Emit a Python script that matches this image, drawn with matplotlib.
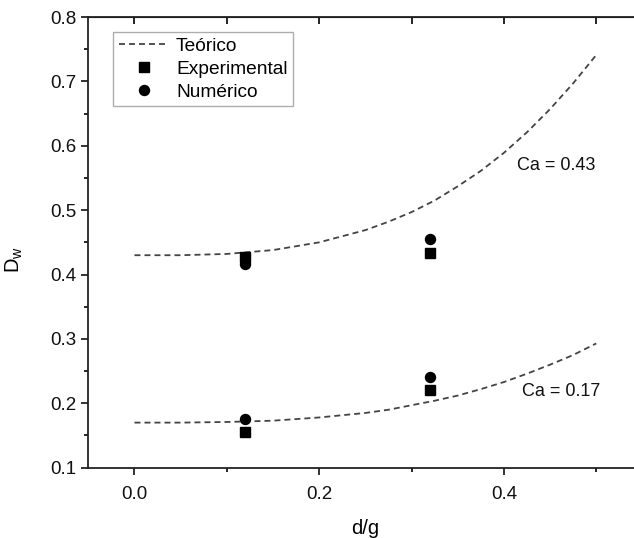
import matplotlib
matplotlib.use('Agg')
import matplotlib.pyplot as plt

plt.rcParams['font.family'] = ['Liberation Sans', 'DejaVu Sans']
plt.rcParams['lines.scale_dashes'] = False

# Curvas teóricas (Ca = 0.43 e Ca = 0.17)
x_teo = [0.0, 0.05, 0.10, 0.15, 0.20, 0.25, 0.275, 0.30, 0.325, 0.35, 0.375,
         0.40, 0.425, 0.45, 0.475, 0.50]
dw_teo_043 = [0.430, 0.430, 0.432, 0.438, 0.450, 0.469, 0.482, 0.497, 0.515, 0.537, 0.561,
              0.589, 0.621, 0.657, 0.697, 0.741]
dw_teo_017 = [0.170, 0.170, 0.171, 0.173, 0.178, 0.185, 0.190, 0.197, 0.204, 0.212, 0.222,
              0.233, 0.246, 0.260, 0.275, 0.293]

# Pontos experimentais e numéricos
x_pts = [0.12, 0.32]
dw_exp_043 = [0.427, 0.433]
dw_num_043 = [0.416, 0.455]
dw_exp_017 = [0.155, 0.221]
dw_num_017 = [0.175, 0.241]

ca_labels = ['Ca = 0.43', 'Ca = 0.17']
ca_pos = [(0.414, 0.570), (0.420, 0.219)]

fig = plt.figure(figsize=(6.34, 5.38), dpi=100)
ax = fig.add_axes([0.1393, 0.1307, 0.874, 0.8377])

line_kw = dict(color='#444444', lw=1.3, dashes=(4.3, 2.9))
ax.plot(x_teo, dw_teo_043, label='Teórico', **line_kw)
ax.plot(x_teo, dw_teo_017, **line_kw)

ax.plot(x_pts, dw_exp_043, 's', color='black', ms=6.5, label='Experimental')
ax.plot(x_pts, dw_exp_017, 's', color='black', ms=6.5)
ax.plot(x_pts, dw_num_043, 'o', color='black', ms=7.2, label='Numérico')
ax.plot(x_pts, dw_num_017, 'o', color='black', ms=7.2)

for txt, (tx, ty) in zip(ca_labels, ca_pos):
    ax.text(tx, ty, txt, fontsize=13, ha='left', va='center', color='#111111')

ax.set_xlim(-0.05, 0.55)
ax.set_ylim(0.1, 0.8)
ax.set_xticks([0.0, 0.2, 0.4])
ax.set_xticks([0.1, 0.3, 0.5], minor=True)
ax.set_yticks([0.1, 0.2, 0.3, 0.4, 0.5, 0.6, 0.7, 0.8])
ax.set_yticks([0.15, 0.25, 0.35, 0.45, 0.55, 0.65, 0.75], minor=True)
ax.set_xticklabels(['0.0', '0.2', '0.4'])
ax.tick_params(which='major', length=5, width=1.2, labelsize=13.5, colors='#111111')
ax.tick_params(which='minor', length=3, width=1.2)
ax.tick_params(axis='x', pad=8)

for s in ax.spines.values():
    s.set_linewidth(1.3)
    s.set_color('#222222')

# eixo superior com marcas para dentro
top = ax.secondary_xaxis('top')
top.set_xticks([0.0, 0.1, 0.2, 0.3, 0.4, 0.5])
top.tick_params(direction='in', length=5, width=1.2, labeltop=False)

ax.set_xlabel('d/g', fontsize=14.5, labelpad=12)
ax.set_ylabel('D$_\\mathregular{w}$', fontsize=14.5)
ax.yaxis.set_label_coords(-0.114, 0.461)

leg = ax.legend(loc='upper left', bbox_to_anchor=(0.045, 0.967), borderaxespad=0,
                fontsize=13.8, handlelength=2.6, handletextpad=0.37,
                labelspacing=0.28, borderpad=0.3, fancybox=False, frameon=True)
leg.get_frame().set_edgecolor('#999999')
leg.get_frame().set_linewidth(1.0)

fig.savefig('out.png', dpi=100)
